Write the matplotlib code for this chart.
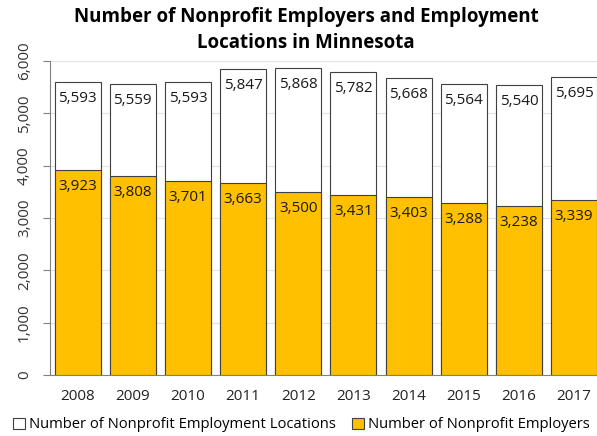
import matplotlib
matplotlib.use("Agg")
import matplotlib.pyplot as plt
from matplotlib.ticker import FuncFormatter

plt.rcParams['font.family'] = ['Open Sans', 'DejaVu Sans']

years = ['2008', '2009', '2010', '2011', '2012', '2013', '2014', '2015', '2016', '2017']
locations = [5593, 5559, 5593, 5847, 5868, 5782, 5668, 5564, 5540, 5695]
employers = [3923, 3808, 3701, 3663, 3500, 3431, 3403, 3288, 3238, 3339]

W, H = 597, 436
fig = plt.figure(figsize=(W / 100, H / 100), dpi=100)
ax = fig.add_axes([0.0838, 0.140, 0.924, 0.720])

x = list(range(len(years)))
w = 0.833
ax.bar(x, locations, width=w, color='white', edgecolor='#404040', linewidth=0.8,
       label='Number of Nonprofit Employment Locations', zorder=2)
ax.bar(x, employers, width=w, color='#FFC000', edgecolor='#404040', linewidth=0.8,
       label='Number of Nonprofit Employers', zorder=3)

for xi, v in zip(x, locations):
    ax.annotate(f'{v:,}', (xi, v), xytext=(0, -6.5), textcoords='offset points',
                ha='center', va='top', fontsize=11, color='#1a1a1a', zorder=4)
for xi, v in zip(x, employers):
    ax.annotate(f'{v:,}', (xi, v), xytext=(0, -6.5), textcoords='offset points',
                ha='center', va='top', fontsize=11, color='#1a1a1a', zorder=4)

ax.set_ylim(0, 6000)
ax.set_xlim(-0.5, 9.5)
ax.set_yticks(range(0, 6001, 1000))
ax.yaxis.set_major_formatter(FuncFormatter(lambda v, p: f'{int(v):,}'))
for lab in ax.get_yticklabels():
    lab.set_rotation(90)
    lab.set_va('center')
ax.tick_params(axis='y', labelsize=11, length=5, color='#808080', labelcolor='#333333', pad=8)
ax.tick_params(axis='x', labelsize=11, length=0, pad=10, labelcolor='#222222')
ax.set_xticks(x)
ax.set_xticklabels(years)
ax.grid(axis='y', color='#e3e3e3', linewidth=0.8, zorder=0)
ax.set_axisbelow(True)
for s in ['top', 'right']:
    ax.spines[s].set_visible(False)
ax.spines['left'].set_color('#808080')
ax.spines['bottom'].set_color('#808080')

fig.text(306 / W, 1 - 22 / H, 'Number of Nonprofit Employers and Employment',
         ha='center', va='baseline', fontsize=13.5, fontweight='bold')
fig.text(306 / W, 1 - 48 / H, 'Locations in Minnesota',
         ha='center', va='baseline', fontsize=13.5, fontweight='bold')

fig.legend(loc='lower center', bbox_to_anchor=(0.505, -0.022), ncol=2, frameon=False,
           fontsize=10.6, handlelength=0.8, handleheight=0.8, handletextpad=0.3,
           columnspacing=1.1)

fig.savefig('out.png', dpi=100)
